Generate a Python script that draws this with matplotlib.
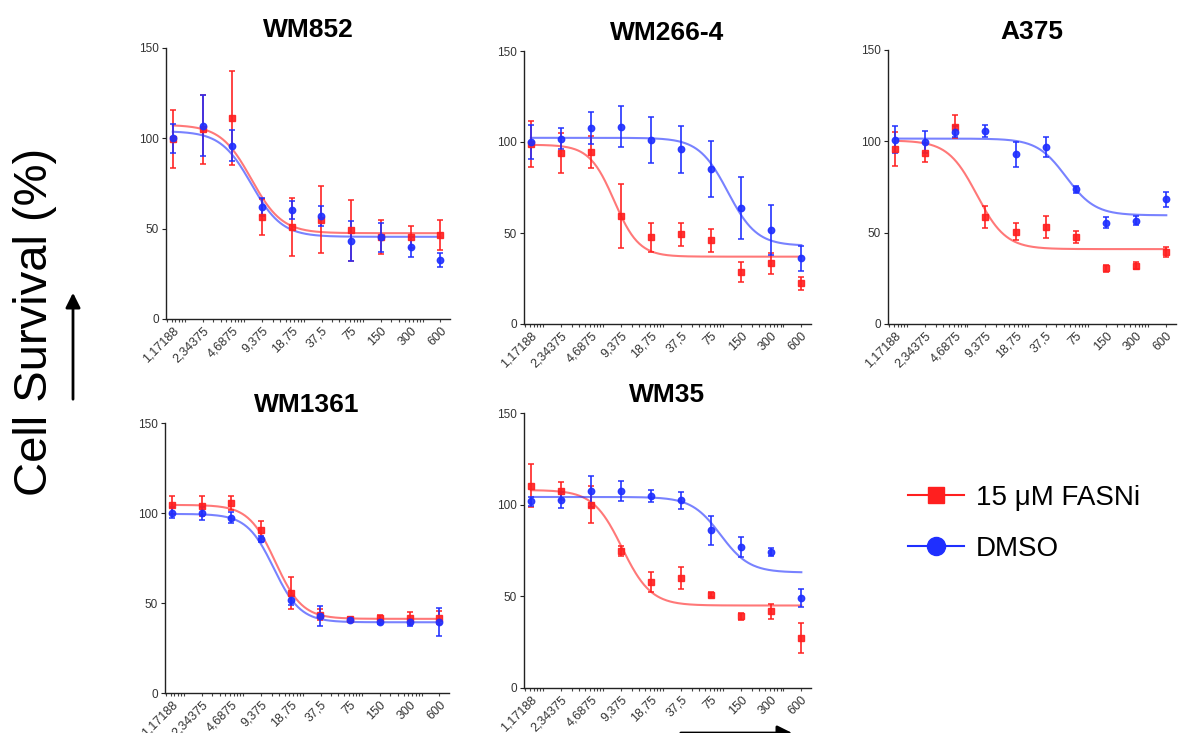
import numpy as np
import matplotlib
matplotlib.use('Agg')
import matplotlib.pyplot as plt
from matplotlib.lines import Line2D
from matplotlib.ticker import FixedLocator, NullFormatter

plt.rcParams['font.family'] = ['Liberation Sans', 'DejaVu Sans']

# Data
doses = [1.17188, 2.34375, 4.6875, 9.375, 18.75, 37.5, 75, 150, 300, 600]
dose_labels = ['1,17188', '2,34375', '4,6875', '9,375', '18,75', '37,5',
               '75', '150', '300', '600']
cell_lines = ['WM852', 'WM266-4', 'A375', 'WM1361', 'WM35']

# 15 uM FASNi (mean, error)
wm852_fasn = [99.5, 105, 111.4, 56.5, 51, 55, 49, 45.4, 45.4, 46.5]
wm852_fasn_err = [16, 19, 26, 10, 16, 18.5, 17, 9.5, 6, 8.5]
wm266_fasn = [99, 93.7, 94.6, 59.3, 47.6, 49.4, 46, 28.4, 33.3, 22.3]
wm266_fasn_err = [12.5, 11, 8.7, 17.4, 7.8, 6.3, 6.2, 5.4, 5.9, 3.7]
a375_fasn = [95.8, 93.8, 108, 58.4, 50.5, 52.9, 47.8, 30.5, 32, 39.6]
a375_fasn_err = [9.3, 5.3, 6.4, 6, 4.7, 6, 3.3, 2, 2, 2.7]
wm1361_fasn = [104.4, 103.8, 105.7, 90.5, 55.4, 43.4, 41.2, 41.9, 41.6, 41.9]
wm1361_fasn_err = [5, 5.4, 4, 5.2, 8.8, 3.1, 1.3, 1.6, 3.5, 3.5]
wm35_fasn = [110.4, 107.6, 100, 74.5, 57.8, 60, 50.9, 39.1, 41.8, 27.3]
wm35_fasn_err = [11.8, 5, 10, 2.7, 5.4, 6, 1.3, 1.8, 3.9, 8.2]

# DMSO (mean, error)
wm852_dmso = [100, 107, 96, 62, 60.1, 56.8, 43, 45.2, 39.7, 32.8]
wm852_dmso_err = [8, 17, 8.7, 5, 5, 5.5, 11, 8, 5.5, 4]
wm266_dmso = [100, 101.9, 107.7, 108.3, 101, 96, 85.4, 63.8, 51.6, 36]
wm266_dmso_err = [9.6, 6, 8.9, 11.3, 12.6, 12.9, 15.4, 17, 13.7, 6.8]
a375_dmso = [101, 99.8, 105.3, 105.7, 93, 97, 73.7, 55.5, 56.6, 68.2]
a375_dmso_err = [7.5, 6, 3, 3.2, 6.8, 5.6, 1.8, 3.2, 2.3, 4.3]
wm1361_dmso = [100.1, 99.8, 97.4, 85.5, 51.4, 43, 40.6, 39.3, 39.3, 39.3]
wm1361_dmso_err = [3, 3.7, 3, 1.5, 2.4, 5.5, 1, 1.2, 2, 7.9]
wm35_dmso = [101.8, 102.7, 107.3, 107.6, 104.5, 102.4, 86, 76.7, 74.2, 49.1]
wm35_dmso_err = [2.3, 4.3, 8.6, 5.5, 3.3, 4.5, 8, 5.5, 2.1, 5.1]

# fitted dose-response parameters [top, bottom, EC50, hill]
wm852_fasn_fit = [107.5, 47.5, 7.3, 2.8]
wm852_dmso_fit = [104, 45.5, 7.3, 2.8]
wm266_fasn_fit = [98.5, 37, 8.0, 3.5]
wm266_dmso_fit = [102.3, 43, 110, 3]
a375_fasn_fit = [100.5, 41, 7.7, 3]
a375_dmso_fit = [101.5, 59.5, 60, 3]
wm1361_fasn_fit = [104.5, 41.2, 13.1, 3.2]
wm1361_dmso_fit = [99.5, 39.3, 12.6, 3.2]
wm35_fasn_fit = [108, 45, 9.6, 3]
wm35_dmso_fit = [104.2, 63, 93, 3]

fasn = [(wm852_fasn, wm852_fasn_err, wm852_fasn_fit),
        (wm266_fasn, wm266_fasn_err, wm266_fasn_fit),
        (a375_fasn, a375_fasn_err, a375_fasn_fit),
        (wm1361_fasn, wm1361_fasn_err, wm1361_fasn_fit),
        (wm35_fasn, wm35_fasn_err, wm35_fasn_fit)]
dmso = [(wm852_dmso, wm852_dmso_err, wm852_dmso_fit),
        (wm266_dmso, wm266_dmso_err, wm266_dmso_fit),
        (a375_dmso, a375_dmso_err, a375_dmso_fit),
        (wm1361_dmso, wm1361_dmso_err, wm1361_dmso_fit),
        (wm35_dmso, wm35_dmso_err, wm35_dmso_fit)]

RED = '#ff1f1f'
BLUE = '#1f2fff'
W, H = 1190, 733

# panel boxes in pixels: left, top, width, height
boxes = [(166, 48, 284, 271), (524, 51, 287, 273), (888, 50, 288, 274),
         (165, 423, 284, 270), (524, 413, 287, 275)]


def logistic(x, p):
    top, bottom, ec50, hill = p
    return bottom + (top - bottom) / (1 + (x / ec50) ** hill)


fig = plt.figure(figsize=(W / 100, H / 100), dpi=100)

xs = np.logspace(np.log10(doses[0]), np.log10(doses[-1]), 300)
base = doses[0] * 2 ** 0.4
minor = [base * 4 ** (k + np.log10(m)) for k in range(-1, 5) for m in range(1, 10)]
minor = [v for v in minor if 1.0 < v < 750]

for i, name in enumerate(cell_lines):
    l, t, w, h = boxes[i]
    ax = fig.add_axes([l / W, 1 - (t + h) / H, w / W, h / H])
    series = [(fasn[i], RED, 's', 5), (dmso[i], BLUE, 'o', 4.6)]
    for (mean, err, fit), col, mk, ms in series:
        ax.plot(xs, logistic(xs, fit), color=col, alpha=0.6, lw=1.5)
    for (mean, err, fit), col, mk, ms in series:
        ax.errorbar(doses, mean, yerr=err, fmt=mk, color=col, ms=ms,
                    elinewidth=1.3, capsize=2, capthick=1.2, alpha=0.9)
    ax.set_xscale('log')
    ax.set_xlim(1.0, 750)
    ax.set_ylim(0, 150)
    ax.set_yticks([0, 50, 100, 150])
    ax.xaxis.set_major_locator(FixedLocator(doses))
    ax.set_xticklabels(dose_labels)
    ax.xaxis.set_minor_locator(FixedLocator(minor))
    ax.xaxis.set_minor_formatter(NullFormatter())
    for s in ['top', 'right']:
        ax.spines[s].set_visible(False)
    for s in ['left', 'bottom']:
        ax.spines[s].set_linewidth(1.0)
        ax.spines[s].set_color('#222222')
    ax.tick_params(axis='y', length=3, width=0.8, labelsize=8.5,
                   colors='#222222', labelcolor='#333333', pad=2)
    ax.tick_params(axis='x', which='major', length=0, labelsize=9,
                   labelcolor='#333333', pad=4)
    ax.tick_params(axis='x', which='minor', length=2.5, width=0.8,
                   color='#444444')
    plt.setp(ax.get_xticklabels(), rotation=45, ha='right',
             rotation_mode='anchor')
    ax.set_title(name, fontsize=19, fontweight='bold', pad=8)

# y label with arrow
fig.text(35 / W, 1 - 322 / H, 'Cell Survival (%)', rotation=90,
         fontsize=34, ha='center', va='center')
fig.add_artist(plt.Annotation('', xy=(73 / W, 1 - 290 / H),
                              xytext=(73 / W, 1 - 402 / H),
                              xycoords='figure fraction',
                              arrowprops=dict(arrowstyle='-|>', lw=2,
                                              color='black',
                                              mutation_scale=22)))
# x direction arrow (cut at bottom edge)
fig.add_artist(plt.Annotation('', xy=(795 / W, 1 - 733 / H),
                              xytext=(678 / W, 1 - 733 / H),
                              xycoords='figure fraction',
                              arrowprops=dict(arrowstyle='-|>', lw=2,
                                              color='black',
                                              mutation_scale=22)))

handles = [Line2D([], [], color=RED, marker='s', ms=12, lw=1.5),
           Line2D([], [], color=BLUE, marker='o', ms=13, lw=1.5)]
fig.legend(handles, ['15 \u03bcM FASNi', 'DMSO'], loc='upper left',
           bbox_to_anchor=(908 / W, 1 - 485 / H), frameon=False,
           fontsize=20, handlelength=2.0, handletextpad=0.45,
           labelspacing=0.9, borderpad=0, borderaxespad=0)

fig.savefig('out.png', dpi=100)
